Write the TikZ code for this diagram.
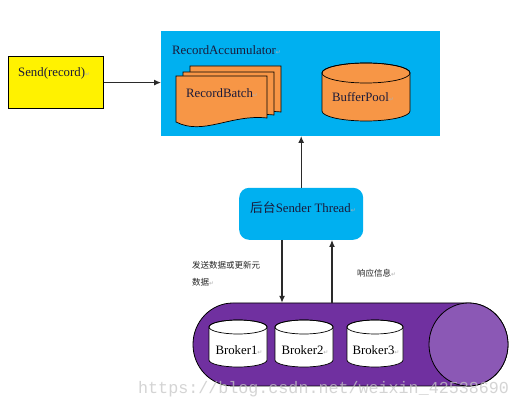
\documentclass[tikz,border=0pt]{standalone}
\usepackage{fontspec}
\setmainfont{Liberation Serif}
\setmonofont{Liberation Mono}
\newfontfamily\cjk{Noto Sans CJK SC}
\newfontfamily\djv{DejaVu Sans}
\usetikzlibrary{arrows.meta,calc}
\definecolor{accblue}{HTML}{00B0F0}
\definecolor{batchorange}{HTML}{F79646}
\definecolor{clpurple}{HTML}{7030A0}
\definecolor{circpurple}{HTML}{8B58B5}
\definecolor{txtnavy}{HTML}{1A1A3A}
\definecolor{arrgray}{HTML}{2A2A2A}
\newcommand\pmark{{\djv\fontsize{6}{6}\selectfont\color{gray!60}↵}}
\newcommand\vcyl[6]{%
  \filldraw[fill=#6, draw=black, line width=0.7pt]
    (#1,#3-#5) -- (#1,#4+#5)
    arc[start angle=180, end angle=360, x radius={(#2-#1)/2}, y radius=#5]
    -- (#2,#3-#5)
    arc[start angle=0, end angle=180, x radius={(#2-#1)/2}, y radius=#5] -- cycle;
  \draw[line width=0.7pt] ({(#1+#2)/2},#3-#5) ellipse [x radius={(#2-#1)/2}, y radius=#5];}
\newcommand\rbpage[5]{%
  \filldraw[fill=batchorange, draw=black, line width=0.7pt]
    (#1,#3) -- (#2,#3) -- (#2,#5)
    .. controls ({#1+0.6*(#2-#1)},#4+8) and ({#1+0.3*(#2-#1)},#4-14) .. (#1,#4) -- cycle;}
\tikzset{
  lbl/.style={font=\fontsize{12.8}{15}\selectfont, text=txtnavy, inner sep=0pt},
  cnlbl/.style={font=\cjk\fontsize{8.5}{10}\selectfont, text=black!85, inner sep=0pt, anchor=west},
  arr/.style={draw=arrgray, line width=1.2pt, -{Latex[length=7pt,width=6pt]}},
}
\begin{document}
\begin{tikzpicture}[x=1pt,y=1pt]
\useasboundingbox (0,0) rectangle (520,410);
\fill[white] (0,0) rectangle (520,410);

% Send box
\node[draw=black, line width=0.8pt, fill=yellow, minimum width=95pt, minimum height=52pt,
      anchor=south west, inner sep=0pt] (send) at (8,301) {};
\node[lbl, anchor=west] (sendtxt) at (18,337) {Send(record)\pmark};

% RecordAccumulator
\node[fill=accblue, minimum width=279pt, minimum height=105pt, anchor=south west, inner sep=0pt]
  (acc) at (161,274) {};
\node[lbl, anchor=west] (acctxt) at (172,360) {RecordAccumulator\pmark};

% RecordBatch stack
\rbpage{190}{281}{344}{294}{298}
\rbpage{183}{274}{338}{291}{295}
\rbpage{176}{267}{334}{288}{292}
\node[lbl] (batch) at (222,317) {RecordBatch\pmark};

% BufferPool
\vcyl{322}{410}{347}{289}{10}{batchorange}
\node[lbl] (pool) at (363,313) {BufferPool\pmark};

% Sender thread
\node[fill=accblue, rounded corners=10pt, minimum width=124pt, minimum height=52pt,
      anchor=south west, inner sep=0pt] (sender) at (239,170) {};
\node[lbl] (sendertxt) at (303,202) {{\cjk 后台}Sender Thread\pmark};

% Broker cluster
\node[minimum width=315pt, minimum height=83pt, inner sep=0pt] (cluster) at (350.5,65.5) {};
\filldraw[fill=clpurple, draw=black, line width=0.8pt]
  (233,107) -- (468.5,107)
  arc[start angle=90, end angle=-90, x radius=39.5, y radius=41.5]
  -- (233,24)
  arc[start angle=270, end angle=90, x radius=40, y radius=41.5] -- cycle;
\filldraw[fill=circpurple, draw=black, line width=0.8pt] (468.5,65.5) ellipse [x radius=39.5, y radius=41.5];

\vcyl{209}{267}{90}{43}{7}{white}
\vcyl{275}{333}{90}{43}{7}{white}
\vcyl{347}{403}{90}{43}{7}{white}
\node[lbl, text=black] (b1) at (239,60) {Broker1\pmark};
\node[lbl, text=black] (b2) at (305,60) {Broker2\pmark};
\node[lbl, text=black] (b3) at (376,60) {Broker3\pmark};

% connectors
\coordinate (dx) at (282,0);
\coordinate (ux) at (332,0);
\draw[arr] (send.east) -- (send.east -| acc.west);
\draw[arr] (sender.north) -- (sender.north |- acc.south);
\draw[arr] (sender.south -| dx) -- (dx |- cluster.north);
\draw[arr] (ux |- cluster.north) -- (ux |- sender.south);

% Chinese labels
\node[cnlbl] (l1) at (192,145) {发送数据或更新元};
\node[cnlbl] (l2) at (192,128) {数据\pmark};
\node[cnlbl] (l3) at (357,137) {响应信息\pmark};

% watermark
\node[font=\ttfamily\fontsize{16.7}{18}\selectfont, text=gray!45, opacity=0.75, anchor=west, inner sep=0pt]
  (wm) at (138,21) {https://blog.csdn.net/weixin\_42538690};
\end{tikzpicture}
\end{document}
